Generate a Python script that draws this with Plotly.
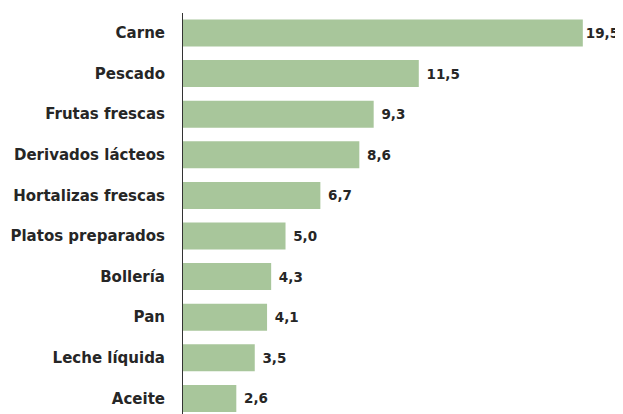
import plotly.graph_objects as go

categories = ["Carne", "Pescado", "Frutas frescas", "Derivados lácteos", "Hortalizas frescas",
              "Platos preparados", "Bollería", "Pan", "Leche líquida", "Aceite"]
values = [19.5, 11.5, 9.3, 8.6, 6.7, 5.0, 4.3, 4.1, 3.5, 2.6]

FONT = "DejaVu Sans"
TEXT_COLOR = "#262626"

fig = go.Figure(go.Bar(
    x=values, y=categories, orientation="h",
    marker=dict(color="#a8c69b", line=dict(width=0)),
    width=0.665,
    texttemplate=["%{x:.1f}"] + [" %{x:.1f}"] * (len(values) - 1),
    textposition="outside", cliponaxis=False, constraintext="none",
    textfont=dict(family=FONT, size=13.5, color=TEXT_COLOR, weight=700),
))

# page body has an 8px default margin, so the figure is offset by 8px
fig.update_layout(
    width=615, height=406,
    margin=dict(l=175, r=0, t=5, b=0, autoexpand=False),
    paper_bgcolor="white", plot_bgcolor="white",
    separators=",.",
    showlegend=False,
    xaxis=dict(range=[0, 21.46], visible=False, showgrid=False, zeroline=False, automargin=False),
    yaxis=dict(
        type="category", categoryorder="array", categoryarray=categories,
        range=[9.384, -0.493], automargin=False,
        showline=True, linecolor="#333333", linewidth=1,
        ticks="", showgrid=False, ticklabelstandoff=14,
        tickfont=dict(family=FONT, size=15, color=TEXT_COLOR, weight=700),
    ),
)

fig.write_html("out.html")
